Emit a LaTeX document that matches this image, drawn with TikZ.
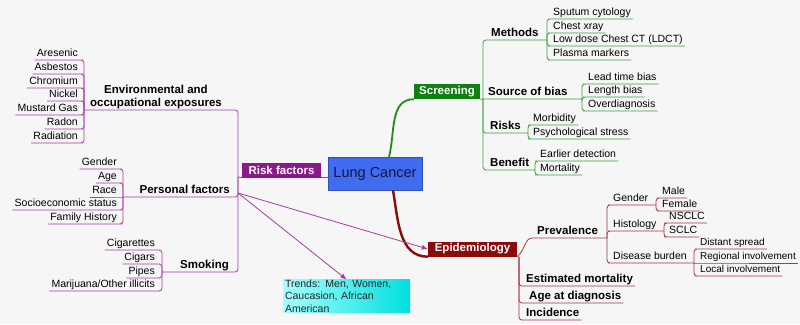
\documentclass[tikz,border=0pt]{standalone}
\usepackage{fontspec}
\setmainfont{Liberation Sans}
\usetikzlibrary{positioning,arrows.meta}
\definecolor{bgcol}{RGB}{246,246,246}
\definecolor{lcblue}{RGB}{64,108,240}
\definecolor{lcnavy}{RGB}{20,20,70}
\definecolor{rfpurple}{RGB}{140,24,140}
\definecolor{rfline}{RGB}{165,60,165}
\definecolor{scgreen}{RGB}{16,128,16}
\definecolor{scline}{RGB}{60,160,60}
\definecolor{epred}{RGB}{140,10,10}
\definecolor{epline}{RGB}{165,55,65}

\begin{document}
\begin{tikzpicture}[x=1pt, y=-1pt,
    leaf/.style={font=\fontsize{10.5}{12}\selectfont, inner xsep=2pt, inner ysep=1pt, text height=7.5pt, text depth=2.5pt},
    smallleaf/.style={leaf, font=\fontsize{10}{12}\selectfont},
    topic/.style={font=\fontsize{11.5}{13}\selectfont\bfseries, inner xsep=2pt, inner ysep=0.5pt, text height=8.5pt, text depth=2.5pt},
    mainbox/.style={rectangle, text=white, font=\fontsize{11.5}{13}\selectfont\bfseries, minimum height=15pt, inner sep=0pt},
    lcbox/.style={rectangle, fill=lcblue, draw=lcblue!75!black, line width=0.6pt, text=lcnavy, font=\fontsize{14.5}{16}\selectfont, minimum width=94pt, minimum height=33pt},
    trendbox/.style={rectangle, left color=cyan!35, right color=cyan!75!teal, text=black!85, font=\fontsize{10.5}{12.5}\selectfont, align=left, text width=123pt, inner xsep=2pt, inner ysep=0pt, minimum height=32pt},
    rlink/.style={rfline, line width=0.8pt, rounded corners=3pt},
    glink/.style={scline, line width=0.8pt, rounded corners=3pt},
    elink/.style={epline, line width=0.8pt, rounded corners=3pt},
    rarrow/.style={rfline, line width=0.8pt, -{Latex[length=6pt,width=5pt]}}]

    \useasboundingbox[fill=bgcol] (0,0) rectangle (800,324);

    \node (lc) [lcbox] at (375,173.5) {Lung Cancer};
    \node (rf) [mainbox, fill=rfpurple, minimum width=79pt] at (281.5,170) {Risk factors};
    \node (scr) [mainbox, fill=scgreen, minimum width=66pt] at (447,91.5) {Screening};
    \node (epi) [mainbox, fill=epred, minimum width=89pt] at (472.5,249) {Epidemiology};
    \node (trends) [trendbox] at (346.5,296) {Trends: Men, Women,\\Caucasion, African\\American};

    \node (env) [font=\fontsize{11.5}{13}\selectfont\bfseries, inner xsep=2pt, inner ysep=0.5pt, align=center, anchor=south east] at (224,110) {Environmental and\\occupational exposures};
    \node (personal) [topic, anchor=south east] at (232,197) {Personal factors};
    \node (smoking) [topic, anchor=south east] at (231,272) {Smoking};

    \node (aresenic) [leaf, anchor=south east] at (80,60) {Aresenic};
    \node (asbestos) [leaf, anchor=south east] at (80,74) {Asbestos};
    \node (chromium) [leaf, anchor=south east] at (80,88) {Chromium};
    \node (nickel) [leaf, anchor=south east] at (80,101) {Nickel};
    \node (mustard) [leaf, anchor=south east] at (80,115) {Mustard Gas};
    \node (radon) [leaf, anchor=south east] at (80,129) {Radon};
    \node (radiation) [leaf, anchor=south east] at (80,143) {Radiation};

    \node (gender) [leaf, anchor=south east] at (119,169) {Gender};
    \node (age) [leaf, anchor=south east] at (119,183) {Age};
    \node (race) [leaf, anchor=south east] at (119,197) {Race};
    \node (socio) [leaf, anchor=south east] at (119,210) {Socioeconomic status};
    \node (family) [leaf, anchor=south east] at (119,224) {Family History};

    \node (cigarettes) [leaf, anchor=south east] at (157,250) {Cigarettes};
    \node (cigars) [leaf, anchor=south east] at (157,264) {Cigars};
    \node (pipes) [leaf, anchor=south east] at (157,278) {Pipes};
    \node (marijuana) [leaf, anchor=south east] at (157,291) {Marijuana/Other illicits};

    \node (methods) [topic, anchor=south west] at (489,40) {Methods};
    \node (bias) [topic, anchor=south west] at (486,99) {Source of bias};
    \node (risks) [topic, anchor=south west] at (488,133) {Risks};
    \node (benefit) [topic, anchor=south west] at (488,170) {Benefit};

    \node (sputum) [leaf, anchor=south west] at (551,19) {Sputum cytology};
    \node (xray) [leaf, anchor=south west] at (551,33) {Chest xray};
    \node (ldct) [leaf, anchor=south west] at (551,46) {Low dose Chest CT (LDCT)};
    \node (plasma) [leaf, anchor=south west] at (551,60) {Plasma markers};
    \node (leadtime) [leaf, anchor=south west] at (586,84) {Lead time bias};
    \node (length) [leaf, anchor=south west] at (586,97) {Length bias};
    \node (overdiag) [leaf, anchor=south west] at (586,111) {Overdiagnosis};
    \node (morbidity) [leaf, anchor=south west] at (531,125) {Morbidity};
    \node (stress) [leaf, anchor=south west] at (531,139) {Psychological stress};
    \node (earlier) [leaf, anchor=south west] at (538,161) {Earlier detection};
    \node (mortality) [leaf, anchor=south west] at (538,175) {Mortality};

    \node (prev) [topic, anchor=south west] at (535,238) {Prevalence};
    \node (estmort) [topic, anchor=south west] at (524,286) {Estimated mortality};
    \node (agediag) [topic, anchor=south west] at (527,303) {Age at diagnosis};
    \node (incid) [topic, anchor=south west] at (524,320) {Incidence};

    \node (pgender) [leaf, anchor=south west] at (611,205) {Gender};
    \node (histo) [leaf, anchor=south west] at (611,231) {Histology};
    \node (burden) [leaf, anchor=south west] at (611,263) {Disease burden};
    \node (male) [leaf, anchor=south west] at (660,198) {Male};
    \node (female) [leaf, anchor=south west] at (660,211) {Female};
    \node (nsclc) [leaf, anchor=south west] at (667,223) {NSCLC};
    \node (sclc) [leaf, anchor=south west] at (667,237) {SCLC};
    \node (distant) [smallleaf, anchor=south west] at (698,249) {Distant spread};
    \node (regional) [smallleaf, anchor=south west] at (698,263) {Regional involvement};
    \node (local) [smallleaf, anchor=south west] at (698,276) {Local involvement};

    \coordinate (rj) at (238,177);
    \coordinate (pj) at (238,193);
    \coordinate (envb) at (84,110);
    \coordinate (pb) at (123,197);
    \coordinate (sb) at (162,272);
    \coordinate (sj) at (483,99);
    \coordinate (mb) at (547,40);
    \coordinate (bb) at (582,99);
    \coordinate (rb) at (528,133);
    \coordinate (beb) at (535,170);
    \coordinate (ej) at (519,256.5);
    \coordinate (pvb) at (607,238);
    \coordinate (gb) at (656,205);
    \coordinate (hb) at (664,231);
    \coordinate (db) at (694,263);

    \draw [scgreen!90!lime, line width=1.8pt] ([xshift=14pt]lc.north) to[out=75,in=180] (scr.south west);
    \draw [epred, line width=2.4pt] ([xshift=18pt]lc.south) to[out=-80,in=180] (epi.south west);
    \draw [rlink] (rf.south east) -- (rf.south east -| lc.west);

    \draw [rlink] (rf.south west) -- (rj);
    \draw [rlink] (rj) |- (env.south east) -- (envb);
    \draw [rlink] (rj) |- (personal.south east) -- (pb);
    \draw [rlink] (rj) |- (smoking.south east) -- (sb);

    \draw [rlink] (envb) |- (aresenic.south east) -- (aresenic.south west);
    \draw [rlink] (envb) |- (asbestos.south east) -- (asbestos.south west);
    \draw [rlink] (envb) |- (chromium.south east) -- (chromium.south west);
    \draw [rlink] (envb) |- (nickel.south east) -- (nickel.south west);
    \draw [rlink] (envb) |- (mustard.south east) -- (mustard.south west);
    \draw [rlink] (envb) |- (radon.south east) -- (radon.south west);
    \draw [rlink] (envb) |- (radiation.south east) -- (radiation.south west);

    \draw [rlink] (pb) |- (gender.south east) -- (gender.south west);
    \draw [rlink] (pb) |- (age.south east) -- (age.south west);
    \draw [rlink] (pb) -- (race.south east) -- (race.south west);
    \draw [rlink] (pb) |- (socio.south east) -- (socio.south west);
    \draw [rlink] (pb) |- (family.south east) -- (family.south west);

    \draw [rlink] (sb) |- (cigarettes.south east) -- (cigarettes.south west);
    \draw [rlink] (sb) |- (cigars.south east) -- (cigars.south west);
    \draw [rlink] (sb) |- (pipes.south east) -- (pipes.south west);
    \draw [rlink] (sb) |- (marijuana.south east) -- (marijuana.south west);

    \draw [rarrow] (pj) -- (epi.west);
    \draw [rarrow] (pj) -- (trends.north);

    \draw [glink] (scr.south east) -- (bias.south west) -- (bb);
    \draw [glink] (sj) |- (methods.south west) -- (mb);
    \draw [glink] (sj) |- (risks.south west) -- (rb);
    \draw [glink] (sj) |- (benefit.south west) -- (beb);

    \draw [glink] (mb) |- (sputum.south west) -- (sputum.south east);
    \draw [glink] (mb) |- (xray.south west) -- (xray.south east);
    \draw [glink] (mb) |- (ldct.south west) -- (ldct.south east);
    \draw [glink] (mb) |- (plasma.south west) -- (plasma.south east);
    \draw [glink] (bb) |- (leadtime.south west) -- (leadtime.south east);
    \draw [glink] (bb) |- (length.south west) -- (length.south east);
    \draw [glink] (bb) |- (overdiag.south west) -- (overdiag.south east);
    \draw [glink] (rb) |- (morbidity.south west) -- (morbidity.south east);
    \draw [glink] (rb) |- (stress.south west) -- (stress.south east);
    \draw [glink] (beb) |- (earlier.south west) -- (earlier.south east);
    \draw [glink] (beb) |- (mortality.south west) -- (mortality.south east);

    \draw [elink] (epi.south east) to[out=40,in=180] (prev.south west) -- (pvb);
    \draw [elink] (ej) |- (estmort.south west) -- (estmort.south east);
    \draw [elink] (ej) |- (agediag.south west) -- (agediag.south east);
    \draw [elink] (ej) |- (incid.south west) -- (incid.south east);

    \draw [elink] (pvb) |- (pgender.south west) -- (gb);
    \draw [elink] (pvb) |- (histo.south west) -- (hb);
    \draw [elink] (pvb) |- (burden.south west) -- (db);
    \draw [elink] (gb) |- (male.south west) -- (male.south east);
    \draw [elink] (gb) |- (female.south west) -- (female.south east);
    \draw [elink] (hb) |- (nsclc.south west) -- (nsclc.south east);
    \draw [elink] (hb) |- (sclc.south west) -- (sclc.south east);
    \draw [elink] (db) |- (distant.south west) -- (distant.south east);
    \draw [elink] (db) -- (regional.south west) -- (regional.south east);
    \draw [elink] (db) |- (local.south west) -- (local.south east);
\end{tikzpicture}
\end{document}
